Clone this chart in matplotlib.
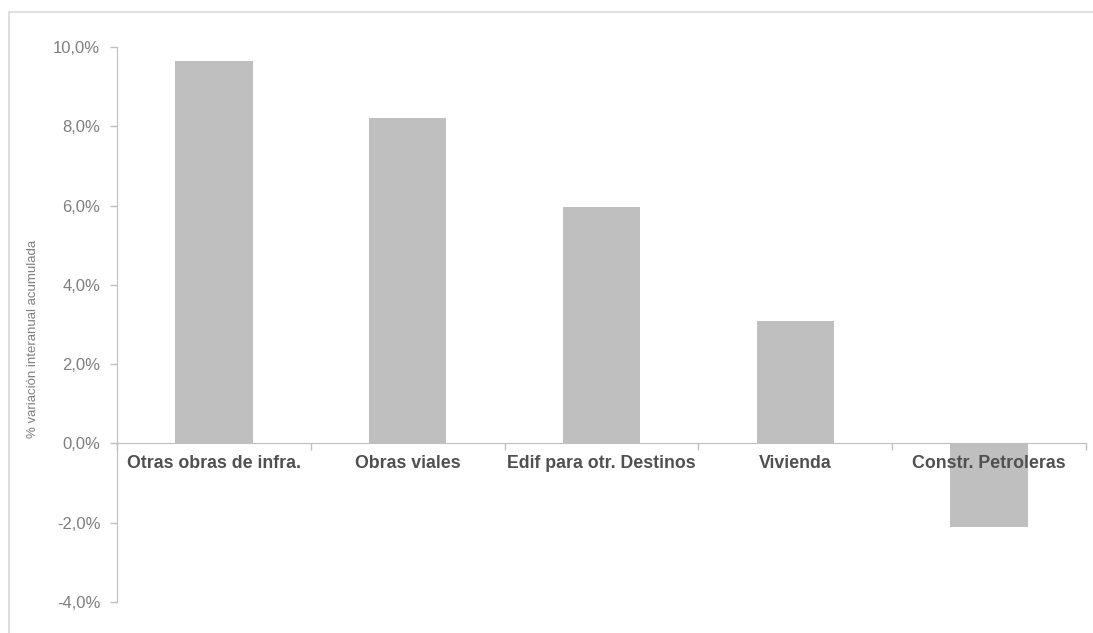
import matplotlib
matplotlib.use("Agg")
import matplotlib.pyplot as plt
from matplotlib.patches import Rectangle
from matplotlib.ticker import FuncFormatter, FixedLocator

plt.rcParams['font.family'] = ['Liberation Sans', 'DejaVu Sans']

categories = ["Otras obras de infra.", "Obras viales", "Edif para otr. Destinos",
              "Vivienda", "Constr. Petroleras"]
values = [9.65, 8.2, 5.97, 3.1, -2.12]
yticks = [-4, -2, 0, 2, 4, 6, 8, 10]

fig = plt.figure(figsize=(10.93, 6.33), dpi=100)
fig.patch.set_facecolor("white")

# outer chart frame
fig.add_artist(Rectangle((9 / 1093, -0.1), 1.2, 1 - 12 / 633 + 0.1,
                         transform=fig.transFigure, fill=False,
                         edgecolor="#d9d9d9", linewidth=1.2))

ax = fig.add_axes([117 / 1093, 1 - 602 / 633, (1086 - 117) / 1093, (602 - 47) / 633])
ax.set_axisbelow(False)

# spines first: moving a spine resets the axis ticks
for s in ("top", "right"):
    ax.spines[s].set_visible(False)
ax.spines["bottom"].set_position(("data", 0))
ax.spines["bottom"].set_color("#bfbfbf")
ax.spines["left"].set_color("#bfbfbf")
ax.set_facecolor("none")

x = list(range(len(categories)))
ax.bar(x, values, width=0.4, color="#bfbfbf", zorder=2)

ax.set_xlim(-0.5, len(categories) - 0.5)
ax.set_ylim(-4, 10)
ax.set_yticks(yticks)
ax.yaxis.set_major_formatter(FuncFormatter(lambda v, p: f"{v:.1f}%".replace(".", ",")))
ax.tick_params(axis="y", colors="#bfbfbf", labelcolor="#7f7f7f", labelsize=12,
               length=5, width=1, pad=7)

ax.set_xticks(x)
ax.set_xticklabels(categories, fontweight="bold", color="#505050", fontsize=12.8)
ax.tick_params(axis="x", which="major", length=0, pad=8.5)
ax.xaxis.set_minor_locator(FixedLocator([i - 0.5 for i in range(len(categories) + 1)]))
ax.tick_params(axis="x", which="minor", length=5, color="#bfbfbf", width=1,
               direction="out")

fig.text(33 / 1093, 1 - 339 / 633, "% variación interanual acumulada", rotation=90,
         ha="center", va="center", fontsize=9.5, color="#7f7f7f")

fig.savefig("out.png", dpi=100, facecolor="white")
